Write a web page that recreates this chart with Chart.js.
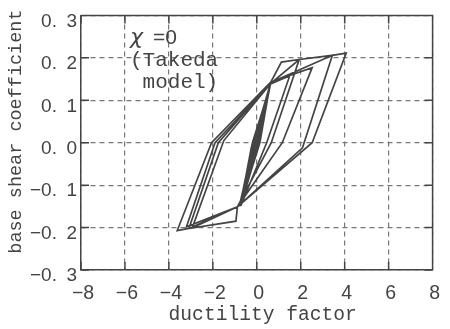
<!DOCTYPE html>
<html><head><meta charset="utf-8">
<script src="https://cdn.jsdelivr.net/npm/chart.js@4.4.1/dist/chart.umd.min.js"></script>
<style>html,body{margin:0;padding:0;background:#fff;}#wrap{width:450px;height:329px;}</style>
</head><body><div id="wrap"><canvas id="c" width="450" height="329"></canvas></div>
<script>
// ductility factor (x) and base shear coefficient (y) along the response path
const ductility = [
  0, 0.2, -0.15, 0.3, 0.05, -0.3, -0.05, 0.4, 0.1, -0.42, -0.1, 0.48, 0.12, -0.52, -0.15,
  0.55, 0.1, -0.62, -0.2, 0.6, 0.08, -0.7, -0.22, 0.62, 0.05, -0.78, -0.18,
  0.58, 0.14, -0.74, -0.25, 0.6, -0.02, -0.8, -0.12, 0.63, 0.1, -0.76, -0.16,
  0.64, 1.12, 1.93,
  0.66, -0.88, -0.95, -2.94,
  -1.5, 0.64, 1.93, 3.44,
  2.08, -0.88, -2.94, -3.09,
  -1.75, 0.64, 3.44, 4.07,
  2.52, -0.88, -3.09, -3.62,
  -2.06, 0.64, 2.52,
  1.16, -0.88, -3.2,
  -1.9, 0.6, 1.5,
  0.45, -0.73,
  -0.12, 0.58, 0.02, -0.68, -0.2, 0.5, 0.0, -0.55, -0.1, 0.4, 0.05, -0.35, 0.25, -0.15, 0
];
const shear = [
  0, 0.05, -0.04, 0.075, 0.0, -0.07, 0.0, 0.095, 0.0, -0.095, 0.0, 0.11, 0.0, -0.11, 0.0,
  0.125, 0.0, -0.13, -0.01, 0.135, 0.0, -0.142, -0.01, 0.138, -0.005, -0.15, 0.0,
  0.13, 0.0, -0.146, -0.012, 0.134, -0.005, -0.15, 0.0, 0.14, 0.005, -0.148, 0.0,
  0.143, 0.19, 0.196,
  0.0, -0.151, -0.185, -0.201,
  0.005, 0.14, 0.196, 0.206,
  -0.012, -0.151, -0.201, -0.202,
  0.0, 0.142, 0.206, 0.211,
  0.0, -0.151, -0.202, -0.207,
  0.0, 0.143, 0.177,
  0.0, -0.151, -0.198,
  0.0, 0.138, 0.158,
  0.0, -0.149,
  0.0, 0.132, 0.0, -0.14, 0.0, 0.115, 0.0, -0.12, 0.0, 0.09, 0.0, -0.08, 0.055, -0.035, 0
];
const xTicks = [-8, -6, -4, -2, 0, 2, 4, 6, 8];
const yTicks = [-0.3, -0.2, -0.1, 0, 0.1, 0.2, 0.3];
const xTitle = ' ductility factor';
const yTitle = '  base shear coefficient';
const noteSymbol = 'χ';
const noteLines = ['=0', '(Takeda', ' model)'];

const INK = '#444444';
const fmtX = v => (v < 0 ? '\u2212' : '') + Math.abs(v);
const fmtY = v => { const r = Math.round(v * 10) / 10; return (r < 0 ? '\u2212' : '') + Math.abs(r).toFixed(1).replace('.', '.\u2002'); };

const framePlugin = {
  id: 'frame',
  beforeDatasetsDraw(chart) {
    const {ctx, chartArea: a, scales: {x, y}} = chart;
    const L = 8;
    ctx.save();
    ctx.strokeStyle = INK; ctx.lineWidth = 1.5; ctx.setLineDash([]);
    ctx.beginPath();
    ctx.moveTo(a.left, a.top); ctx.lineTo(a.right, a.top); ctx.lineTo(a.right, a.bottom);
    x.ticks.forEach(t => { const p = x.getPixelForValue(t.value);
      ctx.moveTo(p, a.bottom); ctx.lineTo(p, a.bottom - L);
      ctx.moveTo(p, a.top); ctx.lineTo(p, a.top + L); });
    y.ticks.forEach(t => { const p = y.getPixelForValue(t.value);
      ctx.moveTo(a.left, p); ctx.lineTo(a.left + L, p);
      ctx.moveTo(a.right, p); ctx.lineTo(a.right - L, p); });
    ctx.stroke();
    ctx.restore();
  }
};
const notePlugin = {
  id: 'note',
  afterDraw(chart) {
    const {ctx, chartArea: a} = chart;
    ctx.save();
    ctx.fillStyle = INK; ctx.textBaseline = 'alphabetic'; ctx.textAlign = 'left';
    ctx.font = 'italic 22px "DejaVu Sans"';
    ctx.fillText(noteSymbol, a.left + 49, a.top + 29);
    ctx.font = '21px "Liberation Sans"';
    ctx.fillText(noteLines[0], a.left + 72, a.top + 29);
    ctx.font = '21px "Liberation Mono"';
    ctx.fillText(noteLines[1], a.left + 49, a.top + 51);
    ctx.fillText(noteLines[2], a.left + 49, a.top + 73);
    ctx.restore();
  }
};

new Chart(document.getElementById('c'), {
  type: 'scatter',
  data: { datasets: [{
    data: ductility.map((v, i) => ({x: v, y: shear[i]})),
    showLine: true, borderColor: INK, borderWidth: 1.7, pointRadius: 0, tension: 0, fill: false
  }]},
  options: {
    responsive: false, animation: false, devicePixelRatio: 1,
    layout: { padding: {left: 0, right: 8, top: 8, bottom: 0} },
    plugins: { legend: {display: false}, tooltip: {enabled: false} },
    scales: {
      x: {
        type: 'linear', min: -8, max: 8,
        afterBuildTicks: s => { s.ticks = xTicks.map(v => ({value: v})); },
        afterFit: s => { s.height = 59; },
        grid: { color: '#777', lineWidth: 1.2, drawTicks: false },
        border: { color: INK, width: 1.5, dash: [5, 4] },
        ticks: { color: INK, padding: 12, labelOffset: 2, maxRotation: 0, autoSkip: false,
          font: {family: '"Liberation Sans", Arial, sans-serif', size: 19.5}, callback: v => fmtX(v) },
        title: { display: true, text: xTitle, color: INK, padding: {top: 0, bottom: 2},
          font: {family: '"Liberation Mono", monospace', size: 19.6} }
      },
      y: {
        type: 'linear', min: -0.3, max: 0.3,
        afterBuildTicks: s => { s.ticks = yTicks.map(v => ({value: v})); },
        afterFit: s => { s.width = 81; },
        grid: { color: '#777', lineWidth: 1.2, drawTicks: false },
        border: { color: INK, width: 1.5, dash: [5, 4] },
        ticks: { color: INK, padding: 4, labelOffset: 6, autoSkip: false,
          font: {family: '"Liberation Sans", Arial, sans-serif', size: 19}, callback: v => fmtY(v) },
        title: { display: true, text: yTitle, color: INK, padding: {top: 5, bottom: 0},
          font: {family: '"Liberation Mono", monospace', size: 18.5} }
      }
    }
  },
  plugins: [framePlugin, notePlugin]
});
</script></body></html>
